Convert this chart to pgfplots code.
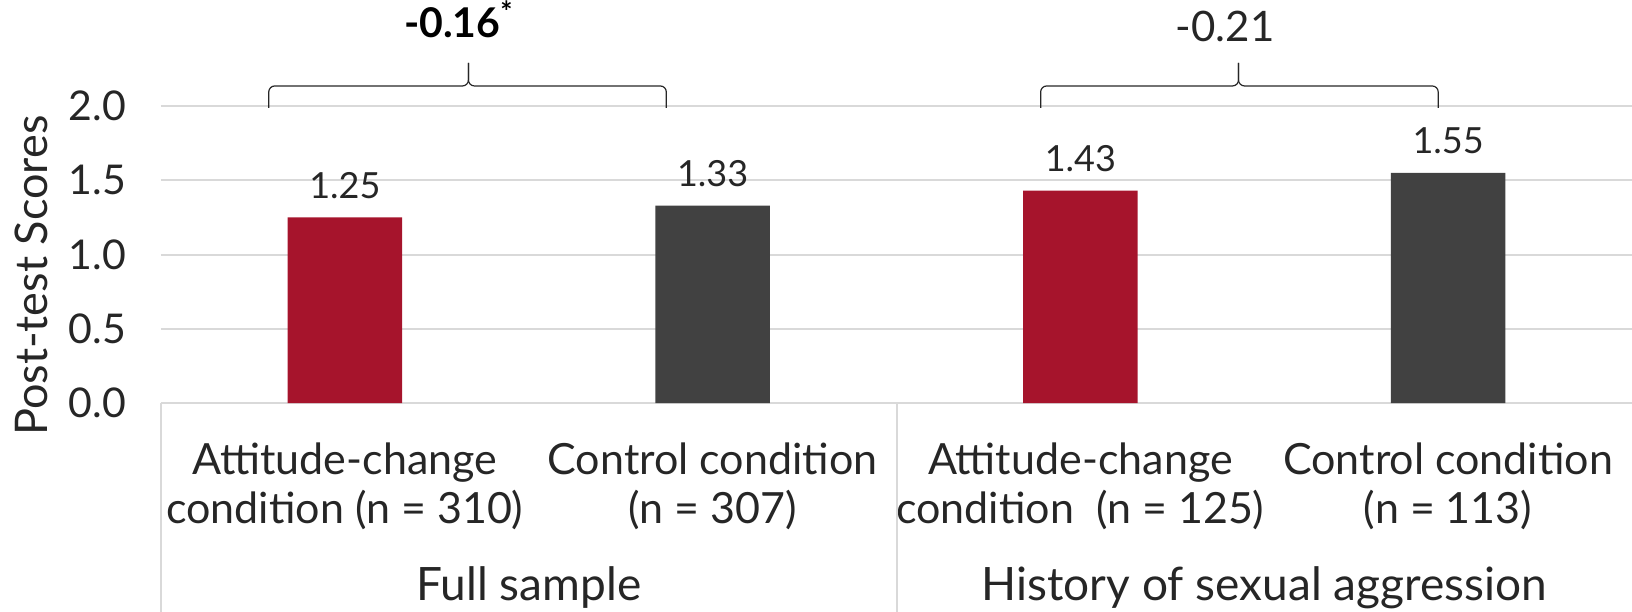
\documentclass[border=0pt]{standalone}
\usepackage{pgfplots}
\pgfplotsset{compat=1.18}
\usepackage{fontspec}
\setmainfont{Lato}
\definecolor{barred}{HTML}{A6142C}
\definecolor{bargray}{HTML}{414141}
\definecolor{gridc}{HTML}{D9D9D9}
\definecolor{txt}{HTML}{262626}
\begin{document}
\begin{tikzpicture}
\begin{axis}[
  scale only axis,
  width=735.5pt, height=148.5pt,
  xmin=-0.5, xmax=3.5, ymin=0, ymax=2,
  clip=false,
  axis x line*=bottom, axis y line*=left,
  x axis line style={-, color=gridc, line width=1pt},
  y axis line style={-, draw=none},
  ytick={0,0.5,1,1.5,2},
  ymajorgrids, grid style={gridc, line width=1pt},
  major tick length=0pt,
  /pgf/number format/assume math mode=true,
  yticklabel style={/pgf/number format/fixed, /pgf/number format/fixed zerofill, /pgf/number format/precision=1, font=\fontsize{20.5}{22}\selectfont, text=txt, anchor=east, xshift=-14pt},
  xtick={0,1,2,3},
  xticklabels={{Attitude-change\\condition (n = 310)},{Control condition\\(n = 307)},{Attitude-change\\condition\ \ (n = 125)},{Control condition\\(n = 113)}},
  xticklabel style={align=center, font=\fontsize{21.5}{24.5}\selectfont, text=txt, anchor=north, yshift=-16.5pt},
  bar width=57.2pt,
  nodes near coords,
  nodes near coords style={font=\fontsize{18}{20}\selectfont, text=txt, /pgf/number format/fixed, /pgf/number format/fixed zerofill, /pgf/number format/precision=2, anchor=base, yshift=9.5pt},
]
\addplot[ybar, fill=barred, draw=none] coordinates {(0,1.25) (2,1.43)};
\addplot[ybar, fill=bargray, draw=none] coordinates {(1,1.33) (3,1.55)};
% separators
\draw[gridc, line width=1pt] (axis cs:-0.5,0) -- ([yshift=-110pt]axis cs:-0.5,0);
\draw[gridc, line width=1pt] (axis cs:1.5,0) -- ([yshift=-110pt]axis cs:1.5,0);
% group labels
\node[anchor=base, font=\fontsize{23}{25}\selectfont, text=txt] at ([yshift=-98.7pt]axis cs:0.5,0) {Full sample};
\node[anchor=base, font=\fontsize{23}{25}\selectfont, text=txt] at ([yshift=-98.7pt]axis cs:2.5,0) {History of sexual aggression};
% y label
\node[rotate=90, font=\fontsize{22.5}{24}\selectfont, text=txt] at ([xshift=-65pt]axis cs:-0.5,0.857) {Post-test Scores};
% braces
\draw[txt, line width=0.6pt, rounded corners=3pt] (axis cs:-0.207,1.987) |- (axis cs:0.336,2.135) -- (axis cs:0.336,2.29);
\draw[txt, line width=0.6pt, rounded corners=3pt] (axis cs:0.874,1.987) |- (axis cs:0.336,2.135) -- (axis cs:0.336,2.29);
\draw[txt, line width=0.6pt, rounded corners=3pt] (axis cs:1.892,1.987) |- (axis cs:2.43,2.135) -- (axis cs:2.43,2.29);
\draw[txt, line width=0.6pt, rounded corners=3pt] (axis cs:2.973,1.987) |- (axis cs:2.43,2.135) -- (axis cs:2.43,2.29);
\node[anchor=base, font=\fontsize{20.5}{22}\selectfont\bfseries, text=black] at (axis cs:0.31,2.46) {-0.16\textsuperscript{*}};
\node[anchor=base, font=\fontsize{21}{22}\selectfont, text=txt] at (axis cs:2.394,2.434) {-0.21};
\end{axis}
\pgfresetboundingbox
\useasboundingbox (-80.5pt,-104pt) rectangle (735.5pt,201.5pt);
\end{tikzpicture}
\end{document}
